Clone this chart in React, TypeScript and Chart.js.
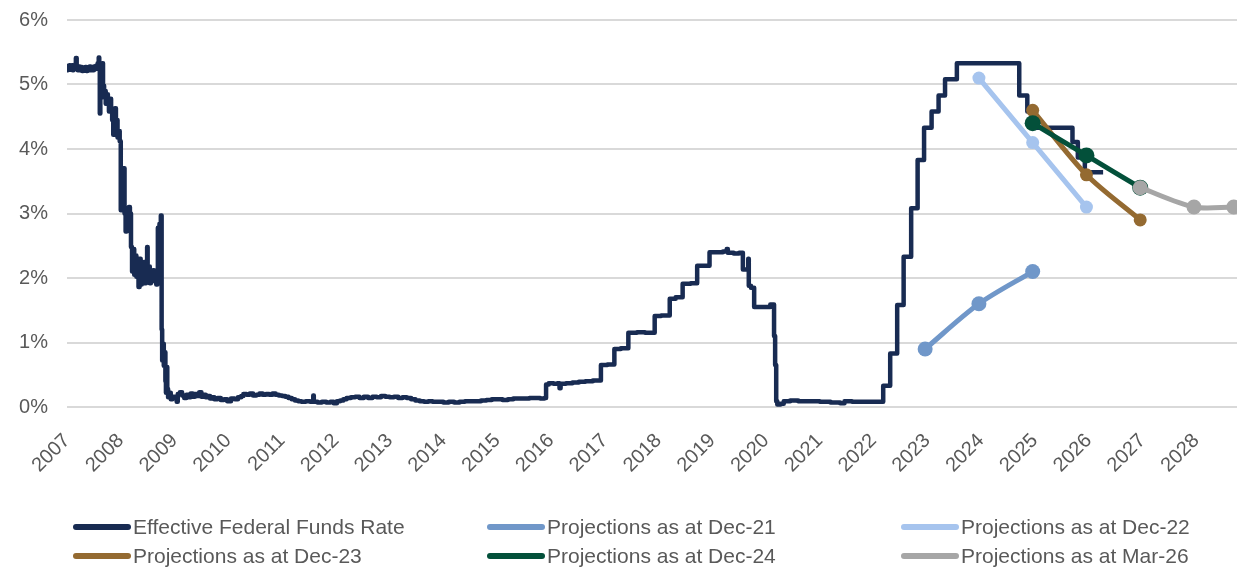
import React, { useEffect, useRef } from "react";
import { Chart, registerables } from "chart.js";

Chart.register(...registerables);

// ---------- Axis ticks ----------
const yearTicks = [
  2007, 2008, 2009, 2010, 2011, 2012, 2013, 2014, 2015, 2016, 2017,
  2018, 2019, 2020, 2021, 2022, 2023, 2024, 2025, 2026, 2027, 2028,
];
const xMin = 2007;
const xMax = 2028.76;
const yMin = 0;
const yMax = 6;

// ---------- Effective Federal Funds Rate (year, %) ----------
const effr2007to2008: [number, number][] = [
  [2007.0, 5.22], [2007.015, 5.29], [2007.03, 5.24], [2007.045, 5.3], [2007.06, 5.23],
  [2007.075, 5.28], [2007.09, 5.3], [2007.105, 5.22], [2007.12, 5.27], [2007.135, 5.24],
  [2007.15, 5.31], [2007.165, 5.41], [2007.18, 5.27], [2007.2, 5.22], [2007.22, 5.28],
  [2007.24, 5.23], [2007.26, 5.27], [2007.28, 5.21], [2007.3, 5.26], [2007.32, 5.22],
  [2007.34, 5.27], [2007.36, 5.21], [2007.38, 5.25], [2007.4, 5.22], [2007.42, 5.28],
  [2007.44, 5.23], [2007.46, 5.26], [2007.48, 5.22], [2007.5, 5.28], [2007.52, 5.24],
  [2007.54, 5.29], [2007.56, 5.25], [2007.57, 5.33], [2007.59, 5.42], [2007.6, 5.28],
  [2007.61, 4.55], [2007.62, 5.05], [2007.64, 4.9], [2007.655, 5.33], [2007.67, 4.98],
  [2007.69, 4.8], [2007.71, 4.9], [2007.72, 4.7], [2007.74, 4.85], [2007.76, 4.74],
  [2007.78, 4.58], [2007.8, 4.78], [2007.82, 4.62], [2007.84, 4.45], [2007.86, 4.22],
  [2007.87, 4.52], [2007.89, 4.63], [2007.91, 4.35], [2007.93, 4.45], [2007.94, 4.18],
  [2007.96, 4.28], [2007.98, 4.12],
  [2008.0, 3.05], [2008.02, 3.65], [2008.035, 3.3], [2008.05, 3.7], [2008.07, 3.0],
  [2008.09, 2.72], [2008.11, 3.05], [2008.13, 2.8], [2008.15, 3.1], [2008.17, 3.0],
  [2008.19, 2.48], [2008.21, 2.1], [2008.23, 2.45], [2008.25, 2.05], [2008.27, 2.35],
  [2008.29, 2.02], [2008.31, 2.22], [2008.33, 1.86], [2008.35, 2.3], [2008.37, 1.9],
  [2008.39, 2.15], [2008.41, 1.98], [2008.43, 2.25], [2008.45, 1.92], [2008.47, 2.12],
  [2008.49, 2.48], [2008.5, 2.05], [2008.52, 2.18], [2008.54, 1.92], [2008.56, 2.1],
  [2008.58, 1.98], [2008.6, 2.12], [2008.62, 1.95], [2008.64, 2.06], [2008.66, 1.9],
  [2008.68, 2.05], [2008.69, 2.78], [2008.71, 2.02], [2008.72, 2.84], [2008.745, 2.97],
  [2008.76, 1.2], [2008.77, 0.72], [2008.79, 0.98], [2008.8, 0.64], [2008.82, 0.85],
  [2008.83, 0.4], [2008.84, 0.22], [2008.855, 0.62], [2008.865, 0.28], [2008.88, 0.15],
  [2008.9, 0.22], [2008.93, 0.12], [2008.96, 0.16],
];

const effr2009to2015: [number, number][] = [
  [2009.0, 0.14], [2009.04, 0.08], [2009.06, 0.2], [2009.1, 0.23], [2009.14, 0.18],
  [2009.18, 0.14], [2009.22, 0.19], [2009.26, 0.15], [2009.3, 0.21], [2009.34, 0.16],
  [2009.38, 0.2], [2009.42, 0.17], [2009.46, 0.23], [2009.5, 0.16], [2009.54, 0.19],
  [2009.58, 0.15], [2009.62, 0.17], [2009.66, 0.13], [2009.7, 0.15], [2009.74, 0.12],
  [2009.8, 0.14], [2009.86, 0.11], [2009.92, 0.12], [2009.98, 0.09], [2010.05, 0.13],
  [2010.12, 0.12], [2010.18, 0.15], [2010.24, 0.17], [2010.28, 0.2], [2010.34, 0.19],
  [2010.4, 0.21], [2010.46, 0.18], [2010.52, 0.19], [2010.58, 0.21], [2010.64, 0.19],
  [2010.7, 0.2], [2010.76, 0.19], [2010.82, 0.21], [2010.88, 0.19], [2010.94, 0.18],
  [2011.0, 0.17], [2011.06, 0.16], [2011.12, 0.14], [2011.18, 0.12], [2011.24, 0.1],
  [2011.3, 0.09], [2011.36, 0.08], [2011.44, 0.09], [2011.52, 0.08], [2011.57, 0.09],
  [2011.58, 0.18], [2011.59, 0.08], [2011.66, 0.07], [2011.74, 0.08], [2011.82, 0.07],
  [2011.9, 0.08], [2011.96, 0.06], [2012.02, 0.09], [2012.08, 0.1], [2012.14, 0.12],
  [2012.2, 0.14], [2012.28, 0.15], [2012.36, 0.16], [2012.44, 0.14], [2012.52, 0.16],
  [2012.6, 0.14], [2012.68, 0.16], [2012.76, 0.15], [2012.84, 0.17], [2012.92, 0.16],
  [2013.0, 0.15], [2013.08, 0.16], [2013.16, 0.14], [2013.24, 0.15], [2013.32, 0.14],
  [2013.4, 0.12], [2013.48, 0.1], [2013.56, 0.09], [2013.64, 0.08], [2013.72, 0.09],
  [2013.8, 0.08], [2013.9, 0.08], [2014.0, 0.07], [2014.1, 0.08], [2014.2, 0.07],
  [2014.3, 0.08], [2014.4, 0.09], [2014.5, 0.09], [2014.6, 0.09], [2014.7, 0.1],
  [2014.8, 0.11], [2014.9, 0.12], [2015.0, 0.12], [2015.1, 0.11], [2015.2, 0.12],
  [2015.3, 0.13], [2015.4, 0.13], [2015.5, 0.13], [2015.6, 0.14], [2015.7, 0.14],
  [2015.8, 0.13], [2015.88, 0.14],
];

const effr2015to2020: [number, number][] = [
  [2015.91, 0.35], [2015.96, 0.37], [2016.05, 0.36], [2016.12, 0.37], [2016.16, 0.29],
  [2016.18, 0.36], [2016.28, 0.37], [2016.4, 0.38], [2016.52, 0.39], [2016.64, 0.4],
  [2016.78, 0.41], [2016.93, 0.65], [2017.05, 0.66], [2017.18, 0.9], [2017.3, 0.91],
  [2017.44, 1.15], [2017.6, 1.16], [2017.75, 1.15], [2017.93, 1.41], [2018.05, 1.42],
  [2018.21, 1.68], [2018.32, 1.7], [2018.45, 1.91], [2018.6, 1.92], [2018.72, 2.19],
  [2018.95, 2.4], [2019.1, 2.4], [2019.2, 2.41], [2019.27, 2.45], [2019.29, 2.39],
  [2019.4, 2.38], [2019.5, 2.39], [2019.57, 2.13], [2019.67, 2.3], [2019.68, 1.88],
  [2019.72, 1.85], [2019.78, 1.55], [2019.9, 1.55], [2020.0, 1.55], [2020.08, 1.59],
];

const effr2020to2021: [number, number][] = [
  [2020.15, 1.1], [2020.17, 0.65], [2020.19, 0.09], [2020.21, 0.04], [2020.27, 0.05],
  [2020.33, 0.09], [2020.45, 0.1], [2020.6, 0.09], [2020.8, 0.09], [2021.0, 0.08],
  [2021.2, 0.07], [2021.38, 0.06], [2021.46, 0.09], [2021.6, 0.08], [2021.8, 0.08],
  [2022.0, 0.08],
];

const effr2022to2026: [number, number][] = [
  [2022.18, 0.33], [2022.31, 0.83], [2022.44, 1.58], [2022.56, 2.33], [2022.7, 3.08],
  [2022.82, 3.83], [2022.94, 4.33], [2023.08, 4.58], [2023.21, 4.83], [2023.33, 5.08],
  [2023.55, 5.33], [2024.71, 4.83], [2024.86, 4.58], [2024.97, 4.33], [2025.7, 4.11],
  [2025.8, 3.87], [2025.93, 3.64], [2026.27, 3.64],
];

// ---------- FOMC projections ----------
const dec21Dates = [2022.96, 2023.96, 2024.96];
const dec21Values = [0.9, 1.6, 2.1];
const dec22Dates = [2023.96, 2024.96, 2025.96];
const dec22Values = [5.1, 4.1, 3.1];
const dec23Dates = [2024.96, 2025.96, 2026.96];
const dec23Values = [4.6, 3.6, 2.9];
const dec24Dates = [2024.96, 2025.96, 2026.96];
const dec24Values = [4.4, 3.9, 3.4];
const mar26Dates = [2026.96, 2027.96, 2028.7];
const mar26Values = [3.4, 3.1, 3.1];

const seriesLabels = [
  "Effective Federal Funds Rate",
  "Projections as at Dec-21",
  "Projections as at Dec-22",
  "Projections as at Dec-23",
  "Projections as at Dec-24",
  "Projections as at Mar-26",
];
const seriesColors = ["#182b52", "#7097c9", "#a6c4ee", "#946a31", "#03503a", "#a6a6a6"];

const FONT = '"Liberation Sans", Arial, Helvetica, sans-serif';
const TEXT_COLOR = "#595959";

const toPoints = (xs: number[], ys: number[]) => xs.map((x, i) => ({ x, y: ys[i] }));

const gridLegend = {
  id: "gridLegend",
  afterDraw(chart: any) {
    const ctx = chart.ctx;
    ctx.save();
    ctx.font = `21px ${FONT}`;
    ctx.textBaseline = "middle";
    ctx.textAlign = "left";
    chart.data.datasets.forEach((ds: any, i: number) => {
      const col = i % 3;
      const row = Math.floor(i / 3);
      const x0 = 76 + col * 414;
      const y = 527 + row * 29;
      ctx.strokeStyle = ds.borderColor;
      ctx.lineWidth = 6;
      ctx.lineCap = "round";
      ctx.beginPath();
      ctx.moveTo(x0, y);
      ctx.lineTo(x0 + 52, y);
      ctx.stroke();
      ctx.fillStyle = TEXT_COLOR;
      ctx.fillText(ds.label, x0 + 57, y + 1);
    });
    ctx.restore();
  },
};

export default function App() {
  const canvasRef = useRef<HTMLCanvasElement | null>(null);

  useEffect(() => {
    if (!canvasRef.current) return;
    const effrData = [
      ...effr2007to2008,
      ...effr2009to2015,
      ...effr2015to2020,
      ...effr2020to2021,
      ...effr2022to2026,
    ].map(([x, y]) => ({ x, y }));

    const proj = (i: number, xs: number[], ys: number[], radius: number, order: number) => ({
      label: seriesLabels[i],
      data: toPoints(xs, ys),
      borderColor: seriesColors[i],
      backgroundColor: seriesColors[i],
      pointBackgroundColor: seriesColors[i],
      pointBorderWidth: 0,
      pointRadius: radius,
      borderWidth: 5,
      tension: 0.3,
      order,
    });

    const chart = new Chart(canvasRef.current, {
      type: "line",
      data: {
        datasets: [
          {
            label: seriesLabels[0],
            data: effrData,
            borderColor: seriesColors[0],
            backgroundColor: seriesColors[0],
            borderWidth: 4.5,
            pointRadius: 0,
            stepped: true,
            borderJoinStyle: "round",
            order: 6,
          },
          proj(1, dec21Dates, dec21Values, 7.5, 5),
          proj(2, dec22Dates, dec22Values, 6.5, 4),
          proj(3, dec23Dates, dec23Values, 6.5, 3),
          proj(4, dec24Dates, dec24Values, 8, 2),
          proj(5, mar26Dates, mar26Values, 7.5, 1),
        ] as any,
      },
      options: {
        responsive: false,
        animation: false,
        parsing: false as any,
        normalized: true,
        layout: { autoPadding: false, padding: { top: 20, left: 0, right: 0, bottom: 0 } },
        plugins: {
          legend: { display: false },
          tooltip: { enabled: false },
        },
        scales: {
          x: {
            type: "linear",
            min: xMin,
            max: xMax,
            grid: { display: false },
            border: { display: false },
            afterBuildTicks: (scale: any) => {
              scale.ticks = yearTicks.map((v) => ({ value: v }));
            },
            afterFit: (scale: any) => {
              scale.height = 162;
              scale.paddingLeft = 0;
              scale.paddingRight = 0;
            },
            ticks: {
              autoSkip: false,
              minRotation: 45,
              maxRotation: 45,
              padding: 14,
              color: TEXT_COLOR,
              font: { size: 20, family: FONT },
              callback: (v: any) => String(v),
            },
          },
          y: {
            min: yMin,
            max: yMax,
            border: { display: false },
            grid: { color: "#d9d9d9", lineWidth: 2, drawTicks: false },
            afterFit: (scale: any) => {
              scale.width = 67;
              scale.paddingTop = 0;
              scale.paddingBottom = 0;
            },
            ticks: {
              stepSize: 1,
              padding: 19,
              color: TEXT_COLOR,
              font: { size: 20, family: FONT },
              callback: (v: any) => `${v}%`,
            },
          },
        },
      },
      plugins: [gridLegend],
    });
    return () => chart.destroy();
  }, []);

  return (
    <div style={{ position: "fixed", left: 0, top: 0, width: 1237, height: 569, background: "#fff" }}>
      <canvas ref={canvasRef} width={1237} height={569} />
    </div>
  );
}
